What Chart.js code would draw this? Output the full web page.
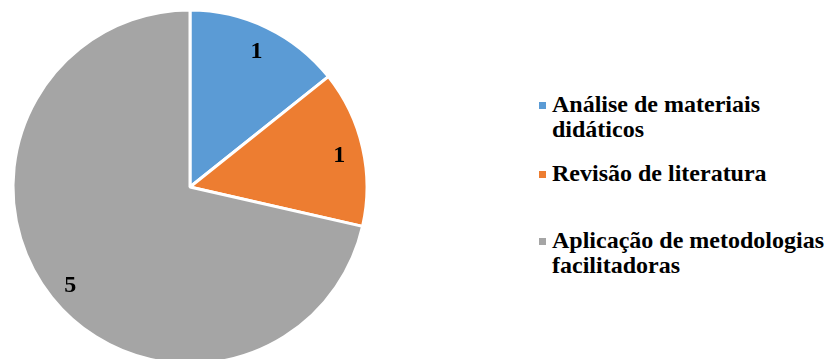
<!DOCTYPE html>
<html>
<head>
<meta charset="utf-8">
<script src="https://cdn.jsdelivr.net/npm/chart.js@4/dist/chart.umd.min.js"></script>
<style>
  html, body { margin:0; padding:0; background:#fff; width:827px; height:359px; overflow:hidden; }
  #wrap { position:relative; width:827px; height:359px; overflow:hidden; }
  #pie { position:absolute; left:0; top:0; }
  #legend { position:absolute; left:538px; top:0; font-family:'Liberation Serif','Times New Roman',serif; font-weight:bold; font-size:24px; color:#000; }
  .item { position:absolute; left:0; white-space:nowrap; line-height:25px; }
  .sw { position:absolute; left:1px; width:7px; height:7px; }
  .txt { position:absolute; left:14px; }
</style>
</head>
<body>
<div id="wrap">
  <canvas id="pie" width="380" height="374"></canvas>
  <div id="legend"></div>
</div>
<script>
const categories = [["Análise de materiais", "didáticos"], ["Revisão de literatura"], ["Aplicação de metodologias", "facilitadoras"]];
const values = [1, 1, 5];
const colors = ["#5b9bd5", "#ed7d31", "#a5a5a5"];
const legendTops = [92, 161, 228];

// HTML legend
const legend = document.getElementById('legend');
categories.forEach((lines, i) => {
  const it = document.createElement('div');
  it.className = 'item';
  it.style.top = legendTops[i] + 'px';
  const sw = document.createElement('div');
  sw.className = 'sw';
  sw.style.background = colors[i];
  sw.style.top = '10px';
  const tx = document.createElement('div');
  tx.className = 'txt';
  tx.innerHTML = lines.join('<br>');
  it.appendChild(sw); it.appendChild(tx);
  legend.appendChild(it);
});

const labelPlugin = {
  id: 'sliceLabels',
  afterDatasetsDraw(chart) {
    const ctx = chart.ctx;
    const meta = chart.getDatasetMeta(0);
    ctx.save();
    ctx.font = 'bold 24px "Liberation Serif", "Times New Roman", serif';
    ctx.fillStyle = '#000';
    ctx.textAlign = 'center';
    ctx.textBaseline = 'middle';
    meta.data.forEach((arc, i) => {
      const p = arc.getProps(['x','y','startAngle','endAngle','outerRadius'], true);
      const mid = (p.startAngle + p.endAngle) / 2;
      const r = p.outerRadius * 0.865;
      ctx.fillText(String(values[i]), p.x + Math.cos(mid) * r, p.y + Math.sin(mid) * r + 3);
    });
    ctx.restore();
  }
};

new Chart(document.getElementById('pie'), {
  type: 'pie',
  data: {
    labels: categories.map(l => l.join(' ')),
    datasets: [{
      data: values,
      backgroundColor: colors,
      borderColor: '#ffffff',
      borderWidth: 3,
      radius: 177
    }]
  },
  options: {
    responsive: false,
    animation: false,
    layout: { padding: 0 },
    plugins: { legend: { display: false }, tooltip: { enabled: false } }
  },
  plugins: [labelPlugin]
});
</script>
</body>
</html>
